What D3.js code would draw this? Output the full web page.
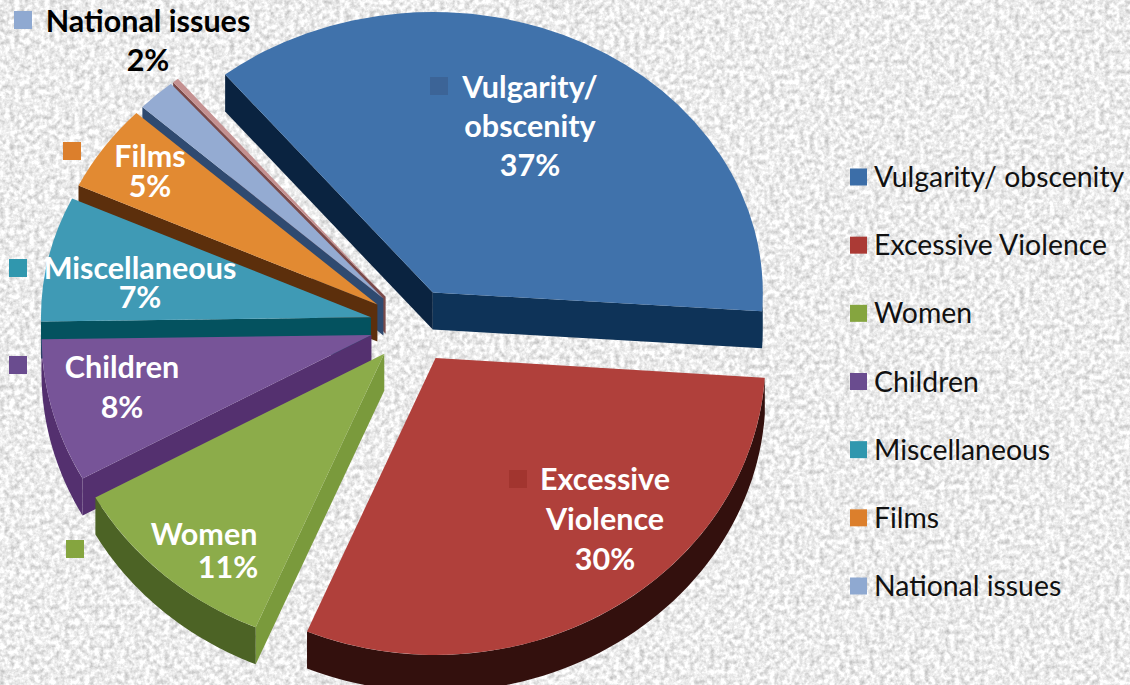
<!DOCTYPE html>
<html>
<head>
<meta charset="utf-8">
<script src="https://cdn.jsdelivr.net/npm/d3@7"></script>
<style>
  html, body { margin: 0; padding: 0; background: #ececec; overflow: hidden; }
  svg { display: block; }
  text { font-family: Lato, "Open Sans", sans-serif; }
</style>
</head>
<body>
<svg id="chart" width="1130" height="685"></svg>
<script>
// values, the last one is the small unnamed sliver
const categories = ["Vulgarity/ obscenity", "Excessive Violence", "Women", "Children", "Miscellaneous", "Films", "National issues"];
const values = [36.9, 30.3, 10.6, 7.8, 7.2, 5, 1.9, 0.3];

const topColors = ["#4072ab", "#b0403b", "#8cac4a", "#775498", "#3f9ab5", "#e28a32", "#94abd2", "#c49090"];
const outerColors = ["#0e3358", "#33100d", "#4c6325", "#54306f", "#04525f", "#5c2f0c", "#2f4a70", "#7a4a4a"];
const startWallColors = ["#0a2340", "#33100d", "#7a9a3c", "#54306f", "#04525f", "#5c2f0c", "#2f4a70", "#7a4a4a"];
const keyColors = ["#3c6ea8", "#ab3a35", "#85a53f", "#6a4c8f", "#3097ae", "#dc7f2c", "#8fa9d1"];
const keyOnSlice = ["#3c6497", "#a2352f", "#85a53f", "#6a4c8f", "#3097ae", "#dc7f2c", "#8fa9d1"];

// data label layout: text lines, centre x, first baseline, line step, key square
const labelLines = [["Vulgarity/", "obscenity"], ["Excessive", "Violence"], ["Women"], ["Children"], ["Miscellaneous"], ["Films"], ["National issues"]];
const labelX = [530, 605, 204, 122, 140, 150, 148];
const labelY = [98, 490, 545, 378, 279, 167, 32];
const labelStep = [39, 40, 33, 40, 29, 30, 39];
const pctX = [530, 605, 228, 122, 140, 150, 148];
const keyX = [430, 509, 66, 9, 9, 63, 14];
const keyY = [77, 470, 540, 356, 259, 142, 11];

const cx = 413, cy = 325;
const radius = 330, depth = 37, explode = 43;
const squashBack = 0.85, squashFront = 0.9; // the front of the pie looks deeper

const svg = d3.select("#chart");

// paper texture
const filter = svg.append("defs").append("filter")
  .attr("id", "paper")
  .attr("x", 0).attr("y", 0).attr("width", "100%").attr("height", "100%")
  .attr("color-interpolation-filters", "sRGB");
filter.append("feTurbulence")
  .attr("type", "fractalNoise")
  .attr("baseFrequency", 0.2)
  .attr("numOctaves", 3)
  .attr("seed", 4);
filter.append("feColorMatrix")
  .attr("type", "matrix")
  .attr("values", "0.45 0 0 0 0.7  0.45 0 0 0 0.7  0.45 0 0 0 0.7  0 0 0 0 1");

svg.append("rect")
  .attr("width", 1130).attr("height", 685)
  .attr("filter", "url(#paper)");

const pie = d3.pie()
  .sort(null)
  .startAngle(-39 * Math.PI / 180)
  .endAngle(321 * Math.PI / 180);

const slices = pie(values).map((d, i) => {
  const mid = (d.startAngle + d.endAngle) / 2;
  const k = Math.cos(mid) < 0 ? squashFront : squashBack;
  return {
    ...d, i, k,
    ox: cx + explode * Math.sin(mid),
    oy: cy - explode * k * Math.cos(mid)
  };
});

const arc = d3.arc().innerRadius(0).outerRadius(radius);
const line = d3.line();

// point of a slice on its top face, a = angle, r = distance from its apex
const pt = (s, a, r, drop) => [
  s.ox + r * Math.sin(a),
  s.oy - r * s.k * Math.cos(a) + drop
];

function radialWall(s, a) {
  return line([pt(s, a, 0, 0), pt(s, a, radius, 0), pt(s, a, radius, depth), pt(s, a, 0, depth)]) + "Z";
}

function outerWall(s) {
  const a0 = Math.max(s.startAngle, Math.PI / 2);
  const a1 = Math.min(s.endAngle, 3 * Math.PI / 2);
  if (a0 >= a1) return null;
  const steps = d3.range(0, 61).map(k => a0 + (a1 - a0) * k / 60);
  const upper = steps.map(a => pt(s, a, radius, 0));
  const lower = steps.slice().reverse().map(a => pt(s, a, radius, depth));
  return line(upper.concat(lower)) + "Z";
}

// back to front, slices on the left lie on top of the walls of the ones above them
const order = [0, 1, 7, 6, 5, 4, 3, 2];
const g = svg.append("g");

order.forEach(i => {
  const s = slices[i];
  const sl = g.append("g").attr("class", "slice");

  if (Math.sin(s.startAngle) < 0) {
    sl.append("path").attr("d", radialWall(s, s.startAngle)).attr("fill", startWallColors[i]);
  }
  if (Math.sin(s.endAngle) > 0) {
    sl.append("path").attr("d", radialWall(s, s.endAngle)).attr("fill", outerColors[i]);
  }
  const wall = outerWall(s);
  if (wall) sl.append("path").attr("d", wall).attr("fill", outerColors[i]);

  sl.append("path")
    .attr("transform", `translate(${s.ox},${s.oy}) scale(1,${s.k})`)
    .attr("d", arc(s))
    .attr("fill", topColors[i]);
});

// data labels, one text per label with a tspan per line
const labels = svg.append("g").attr("font-weight", 700).attr("font-size", 30.5).attr("text-anchor", "middle");

categories.forEach((c, i) => {
  const label = labels.append("text")
    .attr("fill", i == 6 ? "#000" : "#fff");
  labelLines[i].forEach((t, j) => {
    label.append("tspan")
      .attr("x", labelX[i])
      .attr("y", labelY[i] + j * labelStep[i])
      .text(t);
  });
  label.append("tspan")
    .attr("x", pctX[i])
    .attr("y", labelY[i] + labelLines[i].length * labelStep[i])
    .text(Math.round(values[i]) + "%");

  svg.append("rect")
    .attr("x", keyX[i]).attr("y", keyY[i])
    .attr("width", 18).attr("height", 18)
    .attr("fill", keyOnSlice[i]);
});

// legend
const legendY = d3.scalePoint().domain(categories).range([177, 586]);
const legend = svg.append("g").selectAll("g")
  .data(categories)
  .enter().append("g")
  .attr("transform", d => `translate(850,${legendY(d)})`);

legend.append("rect")
  .attr("y", -8.5)
  .attr("width", 17).attr("height", 17)
  .attr("fill", (d, i) => keyColors[i]);

legend.append("text")
  .attr("x", 24)
  .attr("y", 10)
  .attr("font-size", 28.4)
  .attr("fill", "#111")
  .text(d => d);
</script>
</body>
</html>
